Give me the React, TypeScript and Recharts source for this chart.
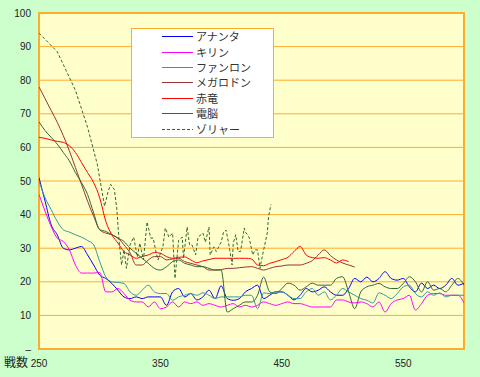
import React from 'react';
import { LineChart, Line, XAxis, YAxis, CartesianGrid, ReferenceArea } from 'recharts';

// battle count on the x axis, one reading every 5 battles
const battles = [
  250, 255, 260, 265, 270, 275, 280, 285, 290, 295,
  300, 305, 310, 315, 320, 325, 330, 335, 340, 345,
  350, 355, 360, 365, 370, 375, 380, 385, 390, 395,
  400, 405, 410, 415, 420, 425, 430, 435, 440, 445,
  450, 455, 460, 465, 470, 475, 480, 485, 490, 495,
  500, 505, 510, 515, 520, 525, 530, 535, 540, 545,
  550, 555, 560, 565, 570, 575, 580, 585, 590, 595,
  600,
];

const ananta = [
  51, 44, 37, 34, 30, 29.5, 30, 30.5, 28, 25,
  22, 21, 19.5, 17.5, 15.5, 15, 15.5, 15, 15.5, 15.5,
  15.5, 13, 17, 18, 15.5, 16.5, 14.6, 15.5, 17.5, 15,
  18.8, 15, 14.5, 15, 17, 18, 19, 15, 16, 17,
  17, 16, 14.6, 16, 18, 17, 17.5, 18.5, 17, 16,
  16, 18, 21, 20, 21.4, 20, 21, 23, 21, 20.5,
  21, 18.5, 17, 19.6, 18, 19, 18, 19, 21, 19,
  19.6,
];

const kirin = [
  46, 41, 36.5, 33, 32, 29.5, 25, 22.6, 22.6, 22.6,
  22.8, 17, 17, 18, 16.5, 14.5, 14, 14, 12.5, 14,
  12, 12.5, 14, 12.5, 14, 13.5, 14, 13, 13.5, 13,
  12.5, 13, 13.5, 12.5, 13, 12.5, 13, 14, 13.5, 13,
  13.5, 14, 13.5, 13.5, 13, 12.5, 12.5, 12.5, 12.5, 14.6,
  14.6, 14, 13.7, 14, 13.5, 12.5, 14, 11, 13.5, 14.6,
  15, 16, 11.6, 13.5, 16, 16.5, 16.5, 16, 16, 16,
  13.7,
];

const fanlong = [
  50, 45, 41.5, 38, 35.5, 34.8, 34, 33.3, 32.3, 31,
  26, 21.5, 20, 19.8, 19.5, 17, 16, 17.5, 19, 17,
  16.5, 16.5, 14.5, 15.5, 16, 16.5, 16, 16.7, 16, 15,
  15.5, 15.5, 15.5, 15.5, 16, 16, 12, 16.7, 16.5, 17,
  17, 16, 15, 15, 17, 18, 16, 17, 14.6, 16,
  18, 17, 16, 15, 14.5, 13.7, 16.7, 16, 15, 16.5,
  18.5, 19, 16.5, 15.5, 17, 16, 16.7, 15.5, 16, 16,
  16,
];

const megalodon = [
  78, 74.5, 71, 67.5, 63.5, 59, 54, 49, 44, 39.5,
  35.5, 34.5, 34, 33, 31, 28.6, 25, 25, 26.5, 27.5,
  27.5, 26.5, 26.8, 27, 26, 25.5, 25, 24.5, 23.5, 23.5,
  23.6, 24, 24, 24.2, 24.4, 24.5, 24, 23.5, 24, 24.5,
  24.7, 25, 25, 25, 25.5, 26.3, 28, 29.5, 27.8, 26.5,
  25.6, 25, 24.4, null, null, null, null, null, null, null,
  null, null, null, null, null, null, null, null, null, null,
  null,
];

const sekiryu = [
  63, 62.7, 62.2, 61.8, 61.5, 60.5, 58.5, 55.5, 52.5, 49.5,
  45, 38, 34, 31.5, 29, 28, 27, 27.5, 28, 28.7,
  28.5, 27.5, 27, 27.3, 27.4, 26.5, 25.7, 26.2, 26.6, 27,
  27, 27, 27, 27, 27, 26.8, 25, 24.8, 25.5, 26,
  26.6, 27.3, 29, 30.5, 28, 27.2, 27, 27.2, 26.5, 25.6,
  26.5, 26, null, null, null, null, null, null, null, null,
  null, null, null, null, null, null, null, null, null, null,
  null,
];

const denno = [
  67.6, 65, 63, 61, 58.5, 56, 52.5, 49.5, 46, 40.5,
  35.5, 35, 34, 33, 32, 30, 28.5, 27, 25.5, 24,
  23.5, 24.5, 26, 26.5, 25.5, 25, 24.5, 24.5, 24, 23.5,
  23.5, 11, 12, 13, 14, 14, 16, 21.4, 17, 16.5,
  18, 19.6, 19, 17.5, 18.5, 19.6, 19, 19, 19, 21,
  21.5, 17, 12, 17, 18.5, 19, 19.5, 18.5, 18, 18,
  19.5, 21.5, 20, 17, 20, 17.5, 18, 17, 19, 21,
  19,
];

// ゾリャー has denser readings and stops early
const zolyaBattles = [
  250, 265, 280, 290, 298, 304, 307, 309, 312, 314,
  316, 318, 320, 322, 325, 328, 331, 333, 336, 339,
  342, 344, 346, 348, 352, 354, 357, 360, 362, 365,
  368, 369, 372, 374, 376, 379, 381, 385, 387, 390,
  391, 394, 396, 400, 402, 404, 406, 408, 409, 410,
  412, 414, 416, 419, 420, 423, 426, 428, 430, 432,
  433, 435, 438, 439, 441,
];
const zolyaValues = [
  94, 88.5, 77, 66, 55, 42.5, 47, 49, 47.5, 42,
  32, 25, 29.5, 24, 31, 33.3, 27.4, 31.5, 26.5, 37.8,
  33, 33, 29.5, 26.5, 30.4, 36, 33.3, 34.5, 21, 32.4,
  33.3, 27, 36.3, 31, 31, 28, 33.3, 34.5, 31.8, 36.3,
  28, 30.4, 29, 31.8, 34.8, 35.4, 31.8, 27.4, 25, 31.5,
  34, 29, 29, 36, 34.8, 33.3, 28, 29.5, 29.5, 24,
  26, 29.5, 34.5, 39.3, 43,
];

const yTicks = [0, 10, 20, 30, 40, 50, 60, 70, 80, 90, 100];
const xTicks = [250, 350, 450, 550];

const toPoints = (xs: number[], ys: (number | null)[]) =>
  xs.map((x, i) => ({ battle: x, value: ys[i] }));

const series = [
  { name: 'アナンタ', color: '#0000ff', points: toPoints(battles, ananta) },
  { name: 'キリン', color: '#ff00ff', points: toPoints(battles, kirin) },
  { name: 'ファンロン', color: '#339999', points: toPoints(battles, fanlong) },
  { name: 'メガロドン', color: '#993333', points: toPoints(battles, megalodon) },
  { name: '赤竜', color: '#ff0000', points: toPoints(battles, sekiryu) },
  { name: '電脳', color: '#336633', points: toPoints(battles, denno) },
  { name: 'ゾリャー', color: '#336633', dash: '3 2', points: toPoints(zolyaBattles, zolyaValues) },
];

const ORANGE = '#ffab2e';
const tickStyle = { fill: '#222', fontSize: 10, fontFamily: 'Liberation Sans, Arial, sans-serif' };

const ChartLegend = () => (
  <div
    style={{
      position: 'absolute',
      left: 131,
      top: 28,
      width: 141,
      height: 108,
      background: '#fff',
      border: `1px solid ${ORANGE}`,
      fontFamily: '"Noto Sans CJK JP", sans-serif',
      fontSize: 11,
      color: '#333',
    }}
  >
    {series.map((s) => (
      <div key={s.name} style={{ height: 15.4, display: 'flex', alignItems: 'center' }}>
        <svg width={31} height={3} style={{ marginLeft: 30, marginRight: 3 }}>
          <line x1={0} y1={1.5} x2={31} y2={1.5} stroke={s.color} strokeWidth={1} strokeDasharray={s.dash} />
        </svg>
        <span style={{ lineHeight: '15px' }}>{s.name}</span>
      </div>
    ))}
  </div>
);

export default function App() {
  return (
    <div style={{ position: 'relative', width: 480, height: 377, background: '#ccffcc' }}>
      <style>{'body { margin: 0; }'}</style>
      <LineChart width={480} height={377} margin={{ top: 13, right: 16, left: 0, bottom: 0 }}>
        <CartesianGrid vertical={false} stroke={ORANGE} fill="#ffffcc" />
        <XAxis
          type="number"
          dataKey="battle"
          domain={[250, 600]}
          ticks={xTicks}
          height={28}
          axisLine={false}
          tickLine={false}
          tickMargin={5}
          tick={tickStyle}
          allowDataOverflow
          label={{
            value: '戦数',
            position: 'left',
            offset: 11,
            fontSize: 12,
            fill: '#222',
            fontFamily: '"Noto Sans CJK JP", sans-serif',
          }}
        />
        <YAxis
          type="number"
          domain={[0, 100]}
          ticks={yTicks}
          width={39}
          axisLine={false}
          tickLine={false}
          tick={tickStyle}
          tickFormatter={(v: number) => (v === 0 ? '–' : String(v))}
        />
        <ReferenceArea x1={250} x2={600} y1={0} y2={100} fill="none" stroke={ORANGE} strokeWidth={2} />
        {series.map((s) => (
          <Line
            key={s.name}
            name={s.name}
            data={s.points}
            dataKey="value"
            type={s.dash ? 'linear' : 'monotone'}
            stroke={s.color}
            strokeWidth={1}
            strokeDasharray={s.dash}
            dot={false}
            activeDot={false}
            isAnimationActive={false}
          />
        ))}
      </LineChart>
      <ChartLegend />
    </div>
  );
}
